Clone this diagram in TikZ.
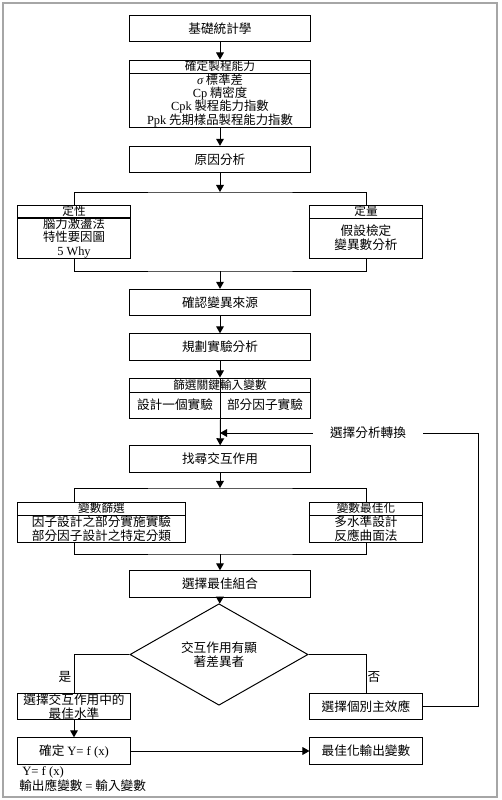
\documentclass[tikz,border=0pt]{standalone}
\usepackage{fontspec}
\setmainfont{Liberation Serif}
\newfontfamily\zh{Noto Sans CJK TC}
\usetikzlibrary{shapes.geometric,arrows.meta}

\begin{document}
\begin{tikzpicture}[x=0.025cm, y=-0.025cm,
   every node/.style={font=\zh\fontsize{9}{9.8}\selectfont, inner sep=0pt, align=center},
   box/.style={draw, line width=0.7pt, minimum width=4.5cm, minimum height=0.66cm},
   sbox/.style={draw, line width=0.7pt, minimum width=2.8cm, minimum height=0.66cm},
   head/.style={minimum height=0.325cm, font=\zh\fontsize{8.3}{9}\selectfont},
   line/.style={line width=0.7pt},
   arr/.style={line width=0.7pt, -{Triangle[length=5pt,width=5.5pt]}}]

\useasboundingbox (0,0) rectangle (501,800);
\draw[gray!70, line width=1.5pt] (3,3) rectangle (497,797);

% top chain
\node[box] (base) at (220,28.5) {基礎統計學};
\node[box, head] (capT) at (220,66.5) {確定製程能力};
\node[box, minimum height=1.35cm, font=\zh\fontsize{8.8}{9.3}\selectfont] (capB) at (220,100.5)
    {{\rmfamily\itshape σ} 標準差\\{\rmfamily Cp} 精密度\\{\rmfamily Cpk} 製程能力指數\\{\rmfamily Ppk} 先期樣品製程能力指數};
\node[box] (cause) at (220,159.5) {原因分析};

% qualitative / quantitative
\node[sbox, head] (qualT) at (74,211.5) {定性};
\node[sbox, minimum height=1cm, font=\zh\fontsize{8.8}{9.6}\selectfont] (qualB) at (74,238) {腦力激盪法\\特性要因圖\\{\rmfamily 5 Why}};
\node[sbox, head] (quanT) at (366,211.5) {定量};
\node[sbox, minimum height=1cm] (quanB) at (366,238) {假設檢定\\變異數分析};

\coordinate (sp1) at (220,192);
\coordinate (jn1) at (220,271);

\node[box] (src) at (220,302.5) {確認變異來源};
\node[box] (plan) at (220,347) {規劃實驗分析};
\node[box, head, minimum height=0.35cm] (scrT) at (220,385) {篩選關鍵輸入變數};
\node[draw, line width=0.7pt, minimum width=2.25cm, minimum height=0.65cm] (scrL) at (175,405) {設計一個實驗};
\node[draw, line width=0.7pt, minimum width=2.25cm, minimum height=0.65cm] (scrR) at (265,405) {部分因子實驗};

\node[box] (find) at (220,459) {找尋交互作用};
\coordinate (fb) at (220,433);
\node[inner xsep=12pt] (swap) at (368,433) {選擇分析轉換};
\coordinate (fbR) at (478,433);

% screening / optimisation
\node[draw, line width=0.7pt, minimum width=4.175cm, head] (vsT) at (101.5,508.5) {變數篩選};
\node[draw, line width=0.7pt, minimum width=4.175cm, minimum height=0.675cm] (vsB) at (101.5,528.5) {因子設計之部分實施實驗\\部分因子設計之特定分類};
\node[sbox, head] (voT) at (366,508.5) {變數最佳化};
\node[sbox, minimum height=0.675cm] (voB) at (366,528.5) {多水準設計\\反應曲面法};

\coordinate (sp2) at (220,488);
\coordinate (jn2) at (220,554);

\node[box] (best) at (220,584) {選擇最佳組合};
\node[draw, line width=0.7pt, diamond, minimum width=4.45cm, minimum height=1.575cm] (dia) at (219,654.5) {交互作用有顯\\著差異者};

\node[sbox] (yes) at (74,706.5) {選擇交互作用中的\\最佳水準};
\node[sbox] (no) at (366,706.5) {選擇個別主效應};
\node (yesL) at (65,677) {是};
\node (noL) at (374,677) {否};

\node[sbox] (fx) at (74,751) {確定 {\rmfamily Y= f (x)}};
\node[sbox] (out) at (366,751) {最佳化輸出變數};

\node[anchor=west] (note1) at (22,772) {\rmfamily Y= f (x)};
\node[anchor=west] (note2) at (19,786) {輸出應變數 {\rmfamily =} 輸入變數};

% connectors
\draw[arr] (base) -- (capT);
\draw[arr] (capB) -- (cause);
\draw[arr] (cause) -- (sp1);
\draw[line] (qualT.north) |- (sp1) -| (quanT.north);
\draw[line] (qualB.south) |- (jn1) -| (quanB.south);
\draw[arr] (jn1) -- (src);
\draw[arr] (src) -- (plan);
\draw[arr] (plan) -- (scrT);
\draw[line] (scrT.north) -- (scrT.south);
\draw[arr] (scrL.south east) -- (find);
\draw[line] (no.east) -| (fbR) -- (swap.east);
\draw[arr] (swap.west) -- (fb);
\draw[arr] (find) -- (sp2);
\draw[line] (qualT |- vsT.north) |- (sp2) -| (voT.north);
\draw[line] (qualT |- vsB.south) |- (jn2) -| (voB.south);
\draw[arr] (jn2) -- (best);
\draw[arr] (best) -- (dia);
\draw[line] (dia.west) -| (yes.north);
\draw[line] (dia.east) -| (no.north);
\draw[arr] (yes) -- (fx);
\draw[arr] (fx) -- (out);

\end{tikzpicture}
\end{document}
